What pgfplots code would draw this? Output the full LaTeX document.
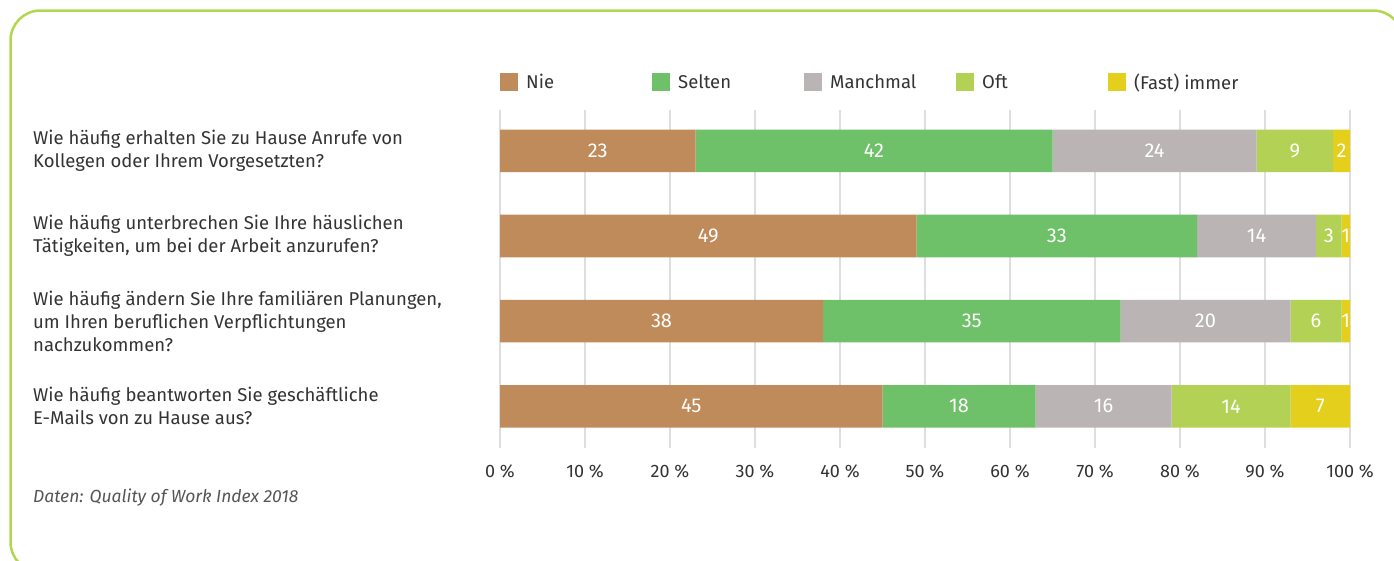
\documentclass[border=0pt]{standalone}
\usepackage{fontspec}
\setmainfont{Fira Sans}
\usepackage{pgfplots}
\pgfplotsset{compat=1.18}
\usepackage{pgfplotstable}
\definecolor{cNie}{RGB}{192,139,91}
\definecolor{cSelten}{RGB}{110,193,104}
\definecolor{cManch}{RGB}{186,180,180}
\definecolor{cOft}{RGB}{179,210,85}
\definecolor{cImmer}{RGB}{228,207,28}
\definecolor{framec}{RGB}{179,214,80}
\definecolor{txt}{RGB}{51,51,51}
\definecolor{srcc}{RGB}{85,85,85}
\definecolor{gridc}{RGB}{222,222,222}
\pgfplotstableread{
q Nie Selten Manchmal Oft Immer
0 23 42 24 9 2
1 49 33 14 3 1
2 38 35 20 6 1
3 45 18 16 14 7
}\data
\pgfplotsset{sqlegend/.style={legend image code/.code={\fill[##1] (0pt,-9pt) rectangle (18pt,9pt);}}}
\begin{document}
\begin{tikzpicture}[x=1pt,y=-1pt]
\useasboundingbox (0,0) rectangle (1394,560);
\begin{scope}
\clip (0,0) rectangle (1394,560);
\draw[framec, line width=2.5pt, rounded corners=30pt] (10.5,10.5) rectangle (1403,572);
\end{scope}
\node[anchor=west, inner sep=0pt, font=\fontsize{17.5}{20}\selectfont\itshape, text=srcc] at (33,498) {Daten: Quality of Work Index 2018};
\begin{axis}[
  at={(500pt,-110pt)}, anchor=north west,
  width=850pt, height=338pt, scale only axis,
  xmin=0, xmax=100, ymin=-0.48, ymax=3.49, y dir=reverse,
  xbar stacked, bar width=0.5,
  axis line style={draw=none}, tick style={draw=none},
  clip=false,
  xtick={0,10,...,100}, xmajorgrids, grid style={draw=gridc, line width=1.5pt},
  /pgf/number format/assume math mode=true,
  xticklabel={\pgfmathprintnumber{\tick}~\%},
  xticklabel style={font=\fontsize{18}{20}\selectfont, text=txt, inner sep=0pt, yshift=-16pt},
  ytick={0,1,2,3},
  yticklabels={{Wie häufig erhalten Sie zu Hause Anrufe von\\Kollegen oder Ihrem Vorgesetzten?},
    {Wie häufig unterbrechen Sie Ihre häuslichen\\Tätigkeiten, um bei der Arbeit anzurufen?},
    {Wie häufig ändern Sie Ihre familiären Planungen,\\um Ihren beruflichen Verpflichtungen\\nachzukommen?},
    {Wie häufig beantworten Sie geschäftliche\\E-Mails von zu Hause aus?}},
  yticklabel style={anchor=west, xshift=-467pt, align=left, inner sep=0pt, font=\fontsize{18.5}{23}\selectfont, text=txt},
  point meta=explicit symbolic,
  nodes near coords,
  every node near coord/.append style={text=white, font=\fontsize{20}{22}\selectfont, anchor=center},
  legend columns=5,
  legend style={at={(axis description cs:0,1.083)}, anchor=west, draw=none, fill=none, inner sep=0pt, column sep=8pt, font=\fontsize{18.5}{20}\selectfont, text=txt, nodes={inner sep=0pt}},
]
\addplot[fill=cNie, draw=none, sqlegend] table[x=Nie, y=q, meta=Nie] {\data};
\addplot[fill=cSelten, draw=none, sqlegend] table[x=Selten, y=q, meta=Selten] {\data};
\addplot[fill=cManch, draw=none, sqlegend] table[x=Manchmal, y=q, meta=Manchmal] {\data};
\addplot[fill=cOft, draw=none, sqlegend] table[x=Oft, y=q, meta=Oft] {\data};
\addplot[fill=cImmer, draw=none, sqlegend] table[x=Immer, y=q, meta=Immer] {\data};
\legend{\makebox[118pt][l]{Nie},\makebox[118pt][l]{Selten},\makebox[118pt][l]{Manchmal},\makebox[118pt][l]{Oft},\makebox[118pt][l]{(Fast) immer}}
\end{axis}
\end{tikzpicture}
\end{document}
